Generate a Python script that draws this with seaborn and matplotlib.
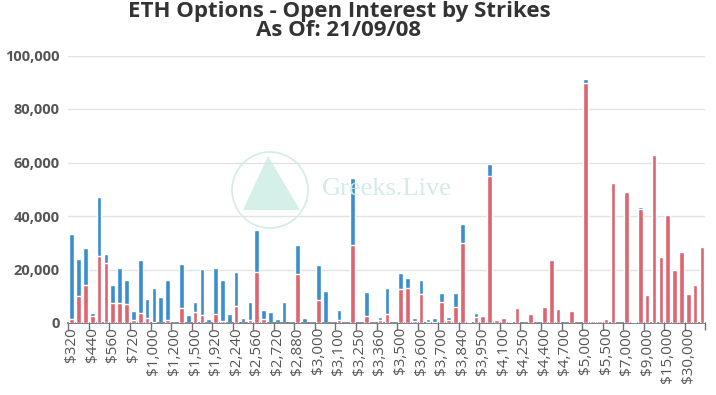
import numpy as np
import pandas as pd
import matplotlib
matplotlib.use("Agg")
import matplotlib.pyplot as plt
from matplotlib.patches import Ellipse, Polygon
import seaborn as sns

# ---- data ----
strikes = [320, 360, 400, 440, 480, 520, 560, 600, 640, 720, 800, 880,
           1000, 1040, 1120, 1200, 1280, 1360, 1500, 1600, 1760, 1920, 2000, 2080,
           2240, 2400, 2480, 2560, 2600, 2640, 2720, 2800, 2840, 2880, 2900, 2960,
           3000, 3040, 3050, 3100, 3200, 3240, 3250, 3300, 3320, 3360, 3400, 3440,
           3500, 3520, 3550, 3600, 3640, 3650, 3700, 3760, 3800, 3840, 3850, 3900,
           3950, 4000, 4050, 4100, 4150, 4200, 4250, 4300, 4350, 4400, 4500, 4600,
           4700, 4800, 4900, 5000, 5200, 5400, 5500, 6000, 6500, 7000, 7500, 8000,
           9000, 10000, 12000, 15000, 20000, 25000, 30000, 35000, 40000]

puts = [1500, 10200, 14200, 2500, 24900, 22600, 7500, 7500, 7000, 1200, 3700, 1700,
        200, 0, 1200, 0, 5500, 0, 4200, 3100, 0, 3400, 900, 0,
        6200, 0, 1100, 19100, 1500, 0, 0, 0, 0, 18400, 0, 0,
        8600, 0, 0, 1100, 0, 29100, 0, 2750, 0, 1100, 3400, 0,
        12600, 13000, 800, 10750, 300, 500, 8000, 1100, 6000, 29750, 300, 2400,
        2750, 55100, 1200, 2000, 250, 5600, 100, 3250, 0, 6000, 23400, 5250,
        0, 4300, 100, 89900, 800, 700, 1500, 52400, 100, 48900, 400, 42800,
        10400, 62900, 24600, 40500, 19750, 26600, 11000, 14250, 28400]

calls = [31900, 13800, 14000, 1400, 22300, 3100, 6700, 13200, 8900, 3200, 19900, 7300,
         13000, 9900, 14700, 300, 16600, 3100, 3800, 17000, 1400, 17200, 15300, 3200,
         12800, 1900, 6600, 15800, 3200, 4200, 1500, 8000, 0, 10900, 1900, 0,
         12900, 12000, 0, 3900, 0, 25200, 900, 8750, 500, 1150, 9600, 750,
         6000, 3900, 1100, 5350, 1100, 1250, 3100, 1000, 5400, 7350, 600, 1200,
         150, 4500, 200, 0, 0, 0, 0, 0, 0, 0, 400, 0,
         0, 0, 0, 1500, 0, 0, 0, 0, 0, 0, 0, 700,
         0, 0, 0, 0, 0, 0, 0, 0, 0]

labels = ["$" + f"{s:,}" for s in strikes]
totals = [c + p for c, p in zip(calls, puts)]

BLUE = "#3a8ece"
RED = "#dc6571"

df = pd.DataFrame({"strike": labels, "total": totals, "puts": puts})

sns.set_theme(style="white")
plt.rcParams["font.family"] = ["Open Sans", "DejaVu Sans"]

fig = plt.figure(figsize=(7.16, 3.95), dpi=100)
ax = fig.add_axes([68.3 / 716, 1 - 323 / 395, (705.4 - 68.3) / 716, (323 - 55.5) / 395])

# watermark
fig.patches.append(Ellipse((270 / 716, 1 - 190 / 395), 76 / 716, 76 / 395,
                           transform=fig.transFigure, fill=False,
                           edgecolor="#d3ece7", linewidth=1.2, zorder=0))
fig.patches.append(Polygon([(268 / 716, 1 - 156 / 395), (243 / 716, 1 - 210 / 395),
                            (300 / 716, 1 - 210 / 395)], closed=True,
                           transform=fig.transFigure, facecolor="#cbebe4",
                           edgecolor="none", alpha=0.8, zorder=0))
fig.text(322 / 716, 1 - 189 / 395, "Greeks.Live", fontsize=19, color="#d3ece7",
         family="Liberation Serif", va="center", ha="left", zorder=0)

sns.barplot(data=df, x="strike", y="total", color=BLUE, width=0.68,
            saturation=1, errorbar=None, ax=ax, zorder=2)
sns.barplot(data=df, x="strike", y="puts", color=RED, width=0.68,
            saturation=1, errorbar=None, ax=ax, zorder=3)

n = len(strikes)
ax.set_xlim(-0.5, n - 0.5)
ax.set_ylim(0, 100000)
ax.set_yticks(np.arange(0, 100001, 20000))
ax.set_yticklabels([f"{v:,}" for v in range(0, 100001, 20000)],
                   fontsize=10.5, color="#555555", fontweight="bold")
ax.grid(axis="y", color="#e3e3e3", linewidth=1, zorder=0)
ax.set_axisbelow(True)

# ticks at category boundaries, labels on every 3rd category
ax.set_xticks(np.arange(-0.5, n, 3))
ax.set_xticklabels([])
ax.set_xticks(np.arange(0, n, 3), minor=True)
ax.set_xticklabels([labels[i] for i in range(0, n, 3)], minor=True,
                   rotation=90, fontsize=11, color="#555555")
ax.tick_params(axis="x", which="major", length=5, width=1, color="#6e7079", bottom=True)
ax.tick_params(axis="x", which="minor", length=0, pad=3)
ax.tick_params(axis="y", length=0, pad=6)

for s in ["top", "right", "left"]:
    ax.spines[s].set_visible(False)
ax.spines["bottom"].set_color("#6e7079")
ax.set_xlabel("")
ax.set_ylabel("")

fig.text(339 / 716, 1 - 12 / 395, "ETH Options - Open Interest by Strikes",
         ha="center", va="center", fontsize=16, fontweight="bold", color="#333333")
fig.text(339 / 716, 1 - 31 / 395, "As Of: 21/09/08",
         ha="center", va="center", fontsize=16, fontweight="bold", color="#333333")

fig.savefig("out.png", dpi=100)
